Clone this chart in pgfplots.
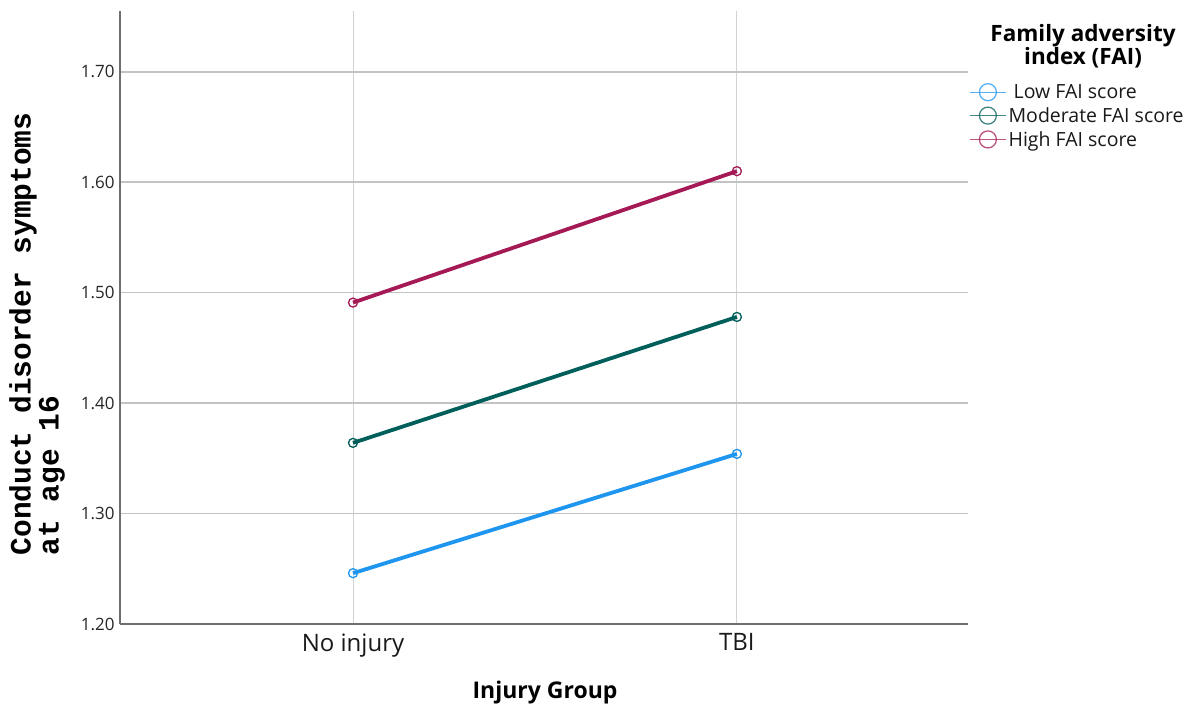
\documentclass[border=0pt]{standalone}
\usepackage{fontspec}
\setmainfont{Open Sans}
\setmonofont{Liberation Mono}
\usepackage{pgfplots}
\pgfplotsset{compat=1.18}
\definecolor{lowc}{HTML}{1E96F0}
\definecolor{modc}{HTML}{005F5A}
\definecolor{highc}{HTML}{A51955}
\definecolor{gridh}{RGB}{195,195,195}
\definecolor{gridv}{RGB}{210,210,210}
\definecolor{axc}{RGB}{110,110,110}
\begin{document}
\begin{tikzpicture}
\path[use as bounding box] (0,0) rectangle (1198pt,707pt);
\begin{axis}[
  at={(120pt,83pt)}, anchor=south west,
  scale only axis, width=848pt, height=613pt,
  xmin=-0.607, xmax=1.602, ymin=1.2, ymax=1.755,
  axis x line=bottom, axis y line=left,
  axis line style={draw=axc, line width=1.8pt, -},
  xtick={0,1}, xticklabels={No injury,TBI},
  ytick={1.2,1.3,1.4,1.5,1.6,1.7},
  major tick length=0pt,
  /pgf/number format/assume math mode=true,
  /pgf/number format/fixed,
  /pgf/number format/fixed zerofill,
  /pgf/number format/precision=2,
  yticklabel style={font=\fontsize{17}{20}\selectfont, text=black!85, xshift=-2pt},
  xticklabel style={font=\fontsize{24}{28}\selectfont, text=black!90, yshift=-6pt},
  ymajorgrids, xmajorgrids,
  y grid style={draw=gridh, line width=1.6pt},
  x grid style={draw=gridv, line width=1pt},
  legend style={at={(1.0,0.887)}, anchor=north west, draw=none, fill=none,
    font=\fontsize{19.5}{21}\selectfont, row sep=3.5pt, text=black!90,
    inner xsep=1pt,
    /tikz/every even column/.append style={column sep=3pt}},
  legend cell align=left,
  legend image code/.code={%
    \draw[mark repeat=2, mark phase=2, line width=1.4pt, mark size=8.5pt, opacity=0.75, #1]
      plot coordinates {(0pt,0pt) (18pt,0pt) (36pt,0pt)};},
  every axis plot/.append style={line width=3.8pt, mark=o, mark size=4.5pt,
    mark options={line width=1.3pt, fill=none}},
]
\addplot[color=lowc] coordinates {(0,1.246) (1,1.354)};
\addlegendentry{\ Low FAI score}
\addplot[color=modc] coordinates {(0,1.364) (1,1.478)};
\addlegendentry{Moderate FAI score}
\addplot[color=highc] coordinates {(0,1.491) (1,1.610)};
\addlegendentry{High FAI score}
\end{axis}
\node[font=\bfseries\fontsize{22.5}{21.5}\selectfont, align=center, anchor=center] at (1083pt,661pt) {Family adversity\\index (FAI)};
\node[font=\bfseries\fontsize{23}{26}\selectfont, anchor=center] at (545pt,14pt) {Injury Group};
\node[font=\ttfamily\bfseries\fontsize{29.5}{28}\selectfont, rotate=90, align=left, anchor=center] at (37pt,373pt) {Conduct disorder symptoms\\at age 16};
\end{tikzpicture}
\end{document}
